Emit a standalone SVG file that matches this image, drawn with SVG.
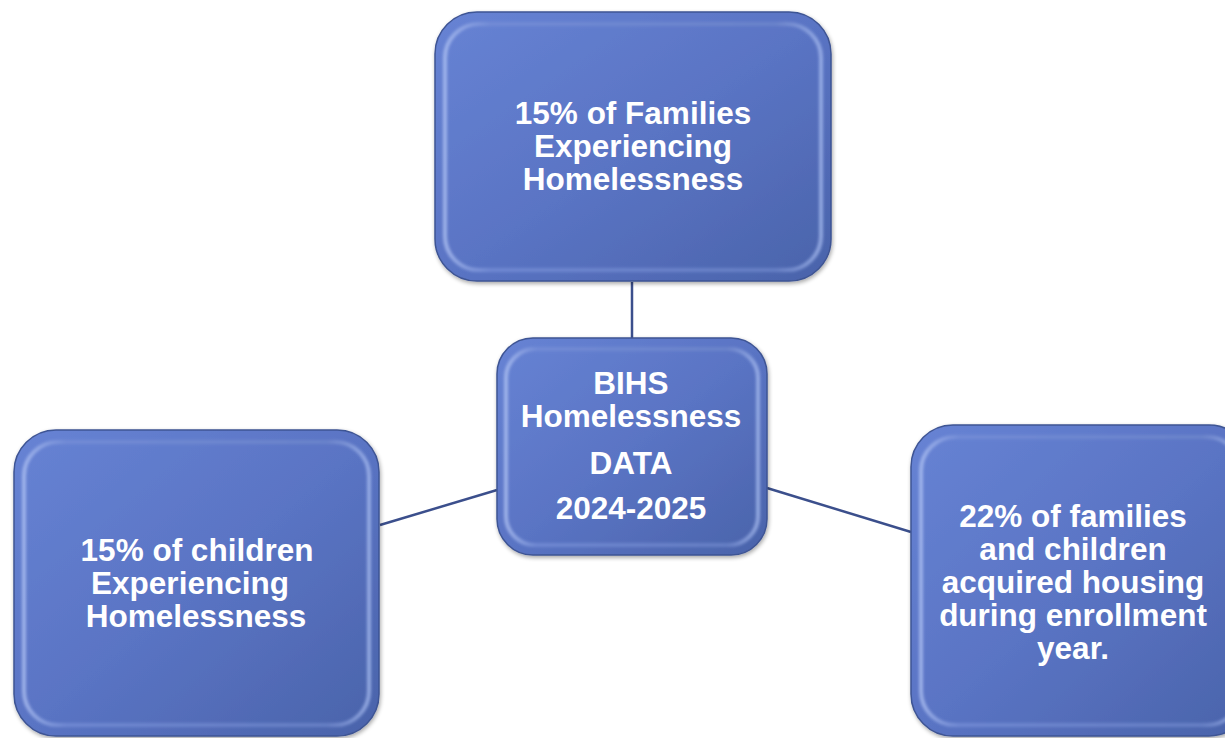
<svg xmlns="http://www.w3.org/2000/svg" width="1225" height="738" viewBox="0 0 1225 738">
<defs>
<linearGradient id="fill" x1="0" y1="0" x2="1" y2="1">
<stop offset="0" stop-color="#6783d4"/>
<stop offset="0.5" stop-color="#5a74c4"/>
<stop offset="1" stop-color="#4a63aa"/>
</linearGradient>
<linearGradient id="bevel" x1="0" y1="0" x2="1" y2="0">
<stop offset="0" stop-color="#b3c5f4"/>
<stop offset="0.12" stop-color="#7890d8"/>
<stop offset="0.88" stop-color="#7088cc"/>
<stop offset="1" stop-color="#a9bdf0"/>
</linearGradient>
<filter id="sh" x="-10%" y="-10%" width="120%" height="120%">
<feGaussianBlur in="SourceAlpha" stdDeviation="2"/>
<feOffset dx="1" dy="2"/>
<feComponentTransfer><feFuncA type="linear" slope="0.35"/></feComponentTransfer>
<feMerge><feMergeNode/><feMergeNode in="SourceGraphic"/></feMerge>
</filter>
<filter id="soft" x="-5%" y="-5%" width="110%" height="110%">
<feGaussianBlur stdDeviation="1.6"/>
</filter>
</defs>
<style>
.box{fill:url(#fill);stroke:#3e5494;stroke-width:1.5;filter:url(#sh)}
.in{fill:none;stroke:url(#bevel);stroke-width:4;opacity:0.75;filter:url(#soft)}
.t{font-family:"Liberation Sans",Arial,sans-serif;font-weight:bold;font-size:31.5px;fill:#ffffff;text-anchor:middle}
.c{stroke:#3b4f8c;stroke-width:2.5;fill:none}
</style>
<rect width="1225" height="738" fill="#ffffff"/>
<g id="connectors">
<line class="c" x1="632" y1="282" x2="632" y2="340"/>
<line class="c" x1="380" y1="525" x2="497" y2="490"/>
<line class="c" x1="767" y1="488" x2="911" y2="532"/>
</g>
<g id="node-top">
<rect class="box" x="435" y="12" width="396" height="269" rx="42"/>
<rect class="in" x="445" y="24" width="376" height="246" rx="34"/>
<text class="t" x="633" y="124">15% of Families</text>
<text class="t" x="633" y="157">Experiencing</text>
<text class="t" x="633" y="190">Homelessness</text>
</g>
<g id="node-center">
<rect class="box" x="497" y="338" width="270" height="217" rx="36"/>
<rect class="in" x="506" y="349" width="252" height="196" rx="29"/>
<text class="t" x="631" y="394">BIHS</text>
<text class="t" x="631" y="427">Homelessness</text>
<text class="t" x="631" y="474">DATA</text>
<text class="t" x="631" y="519">2024-2025</text>
</g>
<g id="node-left">
<rect class="box" x="14" y="430" width="365" height="306" rx="42"/>
<rect class="in" x="24" y="442" width="345" height="283" rx="34"/>
<text class="t" x="197" y="561">15% of children</text>
<text class="t" x="190" y="594">Experiencing</text>
<text class="t" x="196" y="627">Homelessness</text>
</g>
<g id="node-right">
<rect class="box" x="911" y="425" width="340" height="311" rx="42"/>
<rect class="in" x="921" y="437" width="320" height="288" rx="34"/>
<text class="t" x="1073" y="527">22% of families</text>
<text class="t" x="1073" y="560">and children</text>
<text class="t" x="1073" y="593">acquired housing</text>
<text class="t" x="1073" y="626">during enrollment</text>
<text class="t" x="1073" y="659">year.</text>
</g>
</svg>
